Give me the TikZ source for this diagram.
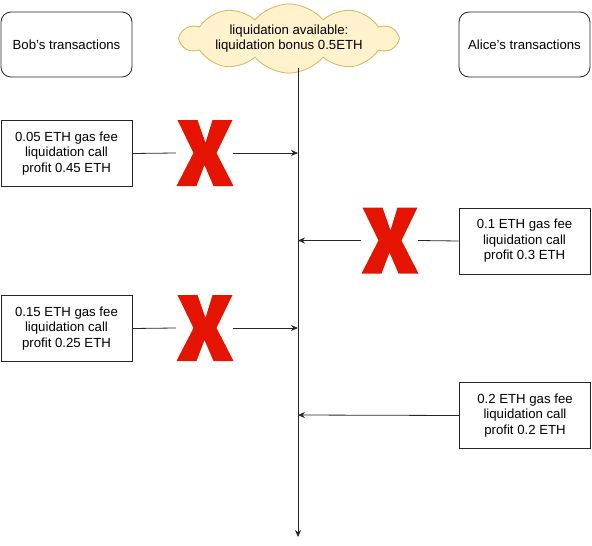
\documentclass[tikz,border=0pt]{standalone}
\usepackage{fontspec}
\setmainfont{Liberation Sans}
\usetikzlibrary{shapes.symbols,arrows.meta}

\definecolor{xred}{HTML}{E51400}
\definecolor{cloudfill}{HTML}{FFF2CC}
\definecolor{cloudline}{HTML}{D6B656}

\tikzset{
  txbox/.style={draw=black!85, line width=0.8pt, minimum width=131pt,
    minimum height=66pt, align=center, inner sep=2pt,
    font=\fontsize{13.2}{15.5}\selectfont},
  userbox/.style={txbox, rounded corners=10pt, minimum height=65pt},
  crossbox/.style={minimum width=57pt, minimum height=66pt, inner sep=0pt},
  link/.style={line width=0.8pt, draw=black!85},
  arr/.style={link, -{Stealth[length=7pt,width=6pt]}}
}

% big red cross drawn over a crossbox node
\newcommand{\redcross}[1]{%
  \fill[xred,shift={(#1.center)}] (-27,-33) -- (-7,-33) -- (1,-10) -- (8,-33)
    -- (28,-33) -- (12,0) -- (29,33) -- (9,33) -- (0,12) -- (-8,33)
    -- (-28,33) -- (-11,0) -- cycle;}

\begin{document}
\begin{tikzpicture}[x=1pt,y=-1pt]
\useasboundingbox (0,0) rectangle (592,546);

% headers
\node[userbox] (bob) at (66.5,44.5) {Bob's transactions};
\node[userbox] (alice) at (524.5,44.5) {Alice's transactions};
\node[cloud, cloud puffs=10, cloud puff arc=100, aspect=4.6, draw=cloudline,
  fill=cloudfill, line width=0.8pt, minimum width=216pt, minimum height=58pt,
  inner sep=-4pt, align=center, font=\fontsize{13.2}{15.5}\selectfont]
  (pool) at (289,38.5) {liquidation available:\\liquidation bonus 0.5ETH};

% time line
\coordinate (top) at (298,68);
\coordinate (bottom) at (298,537);
\draw[arr] (top) -- (bottom);
\coordinate (t1) at (298,153);
\coordinate (t2) at (298,240.5);
\coordinate (t3) at (298,328);
\coordinate (t4) at (298,415);

% transactions
\node[txbox] (b1) at (66.5,153.5) {0.05 ETH gas fee\\liquidation call\\profit 0.45 ETH};
\node[txbox] (a1) at (524.5,241) {0.1 ETH gas fee\\liquidation call\\profit 0.3 ETH};
\node[txbox] (b2) at (66.5,328.5) {0.15 ETH gas fee\\liquidation call\\profit 0.25 ETH};
\node[txbox] (a2) at (525,415.5) {0.2 ETH gas fee\\liquidation call\\profit 0.2 ETH};

\node[crossbox] (x1) at (204.5,153) {};
\node[crossbox] (x2) at (389.5,240.5) {};
\node[crossbox] (x3) at (204.5,328) {};
\redcross{x1}
\redcross{x2}
\redcross{x3}

\draw[link] (b1.east) -- (x1.west);
\draw[arr] (x1.east) -- (t1);
\draw[link] (a1.west) -- (x2.east);
\draw[arr] (x2.west) -- (t2);
\draw[link] (b2.east) -- (x3.west);
\draw[arr] (x3.east) -- (t3);
\draw[arr] (a2.west) -- (t4);
\end{tikzpicture}
\end{document}
